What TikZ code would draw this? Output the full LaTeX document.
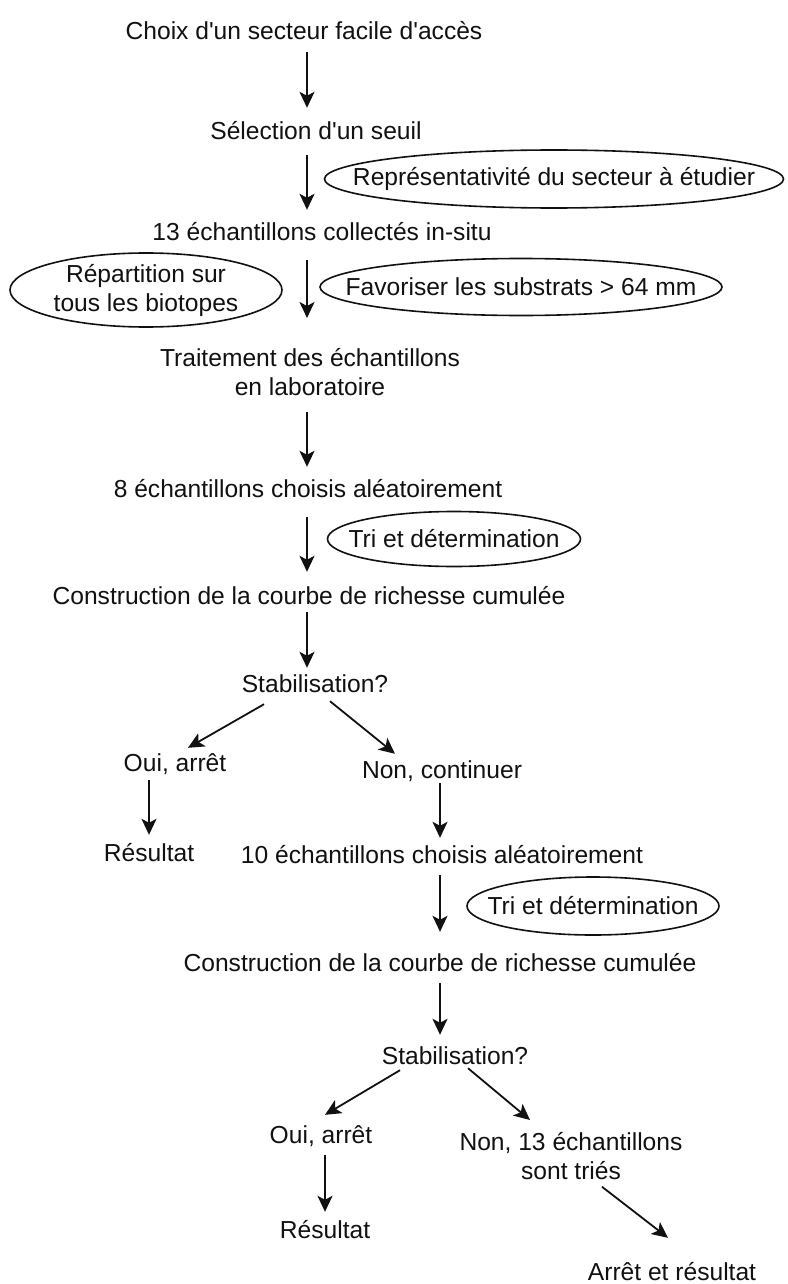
\documentclass[tikz,border=0pt]{standalone}
\usepackage{fontspec}
\setmainfont{Liberation Sans}[Ligatures=TeXOff]
\usepackage{tikz}
\usetikzlibrary{shapes.geometric, arrows.meta, positioning}
\definecolor{inkblack}{HTML}{111111}

\begin{document}
\begin{tikzpicture}[
  x=1pt, y=1pt,
  txt/.style={inner sep=0pt, font=\fontsize{24.6}{29}\selectfont, text=inkblack},
  line/.style={txt, anchor=base, text height=18pt, text depth=5pt},
  bloc/.style={txt, anchor=north, align=center},
  ring/.style={draw=inkblack, line width=1.6pt},
  arrow/.style={-{Stealth[length=16pt, width=15pt, inset=4pt]}, inkblack, line width=1.8pt}
]
\useasboundingbox (0,0) rectangle (787,-1284);
\coordinate (axe) at (307,0);
\coordinate (axeb) at (440,0);

\node[line] (choix) at (304,-40) {Choix d'un secteur facile d'accès};
\node[line] (seuil) at (316,-140) {Sélection d'un seuil};
\node[line] (ech13) at (322,-240) {13 échantillons collectés in-situ};
\node[bloc] (trait) at (310,-348) {Traitement des échantillons\\en laboratoire};
\node[line] (ech8) at (308,-497) {8 échantillons choisis aléatoirement};
\node[line] (constr) at (309,-604) {Construction de la courbe de richesse cumulée};
\node[line] (stab) at (315,-692) {Stabilisation?};
\node[line] (oui) at (175,-771) {Oui, arrêt};
\node[line] (non) at (442,-778) {Non, continuer};
\node[line] (res) at (149,-861) {Résultat};
\node[line] (ech10) at (442,-863) {10 échantillons choisis aléatoirement};
\node[line] (constrb) at (440,-971) {Construction de la courbe de richesse cumulée};
\node[line] (stabb) at (455,-1064) {Stabilisation?};
\node[line] (ouib) at (321,-1143) {Oui, arrêt};
\node[bloc] (nonb) at (571,-1132) {Non, 13 échantillons\\sont triés};
\node[line] (resb) at (325,-1238) {Résultat};
\node[line] (fin) at (672,-1280) {Arrêt et résultat};

\node[txt] (repr) at (554,-179) {Représentativité du secteur à étudier};
\node[txt, align=center] (repart) at (146,-290) {Répartition sur\\tous les biotopes};
\node[txt] (favor) at (521,-287) {Favoriser les substrats > 64 mm};
\node[txt] (tri) at (454,-539) {Tri et détermination};
\node[txt] (trib) at (593,-906) {Tri et détermination};
\draw[ring] (repr.center) ellipse [x radius=229.5pt, y radius=29pt];
\draw[ring] (repart.center) ellipse [x radius=136pt, y radius=37pt];
\draw[ring] (favor.center) ellipse [x radius=201pt, y radius=28.5pt];
\draw[ring] (tri.center) ellipse [x radius=126.5pt, y radius=27.5pt];
\draw[ring] (trib.center) ellipse [x radius=126pt, y radius=29pt];

\draw[arrow, shorten <=7pt, shorten >=14pt] (choix.south -| axe) -- (seuil.north -| axe);
\draw[arrow, shorten <=10pt, shorten >=12pt] (seuil.south -| axe) -- (ech13.north -| axe);
\draw[arrow, shorten <=15pt, shorten >=30pt] (ech13.south -| axe) -- (trait.north -| axe);
\draw[arrow, shorten <=16pt, shorten >=12pt] (trait.south -| axe) -- (ech8.north -| axe);
\draw[arrow, shorten <=15pt, shorten >=14pt] (ech8.south -| axe) -- (constr.north -| axe);
\draw[arrow, shorten <=3pt, shorten >=6pt] (constr.south -| axe) -- (stab.north -| axe);
\draw[arrow] ([shift={(-51pt,-7pt)}]stab.south) -- ([shift={(13pt,5pt)}]oui.north);
\draw[arrow] ([shift={(15pt,-4pt)}]stab.south) -- ([shift={(-47pt,6pt)}]non.north);
\draw[arrow, shorten <=4pt, shorten >=8pt] (oui.south -| res) -- (res.north);
\draw[arrow, shorten >=7pt] (non.south -| axeb) -- (ech10.north -| axeb);
\draw[arrow, shorten <=7pt, shorten >=21pt] (ech10.south -| axeb) -- (constrb.north -| axeb);
\draw[arrow, shorten <=7pt, shorten >=11pt] (constrb.south -| axeb) -- (stabb.north -| axeb);
\draw[arrow] ([shift={(-55pt,-1pt)}]stabb.south) -- ([shift={(4pt,10pt)}]ouib.north);
\draw[arrow] ([shift={(13pt,1pt)}]stabb.south) -- ([shift={(-41pt,12pt)}]nonb.north);
\draw[arrow, shorten <=7pt, shorten >=8pt] (ouib.south -| resb) -- (resb.north);
\draw[arrow] ([shift={(31pt,-7pt)}]nonb.south) -- ([shift={(-4pt,24pt)}]fin.north);
\end{tikzpicture}
\end{document}
